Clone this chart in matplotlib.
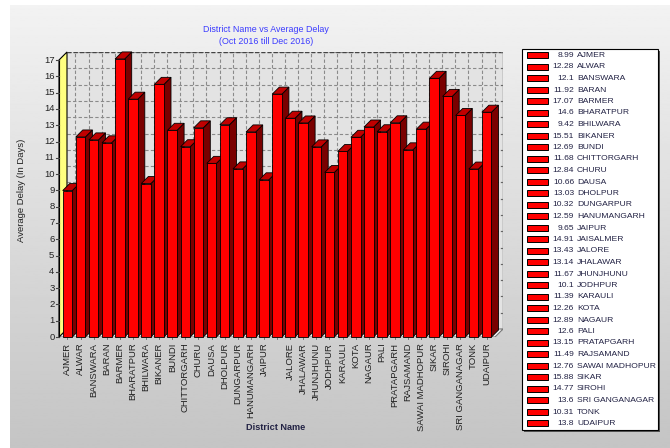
import numpy as np
import matplotlib.pyplot as plt
from matplotlib.patches import Polygon, Rectangle

plt.rcParams['font.family'] = ['Liberation Sans', 'DejaVu Sans']

districts = ["AJMER", "ALWAR", "BANSWARA", "BARAN", "BARMER", "BHARATPUR", "BHILWARA",
             "BIKANER", "BUNDI", "CHITTORGARH", "CHURU", "DAUSA", "DHOLPUR", "DUNGARPUR",
             "HANUMANGARH", "JAIPUR", "JAISALMER", "JALORE", "JHALAWAR", "JHUNJHUNU",
             "JODHPUR", "KARAULI", "KOTA", "NAGAUR", "PALI", "PRATAPGARH", "RAJSAMAND",
             "SAWAI MADHOPUR", "SIKAR", "SIROHI", "SRI GANGANAGAR", "TONK", "UDAIPUR"]
avg_delay = [8.99, 12.28, 12.1, 11.92, 17.07, 14.6, 9.42, 15.51, 12.69, 11.68, 12.84,
             10.66, 13.03, 10.32, 12.59, 9.65, 14.91, 13.43, 13.14, 11.67, 10.1, 11.39,
             12.26, 12.89, 12.6, 13.15, 11.49, 12.76, 15.88, 14.77, 13.6, 10.31, 13.8]
# the axis skips the JAISALMER label (no room), the legend keeps it
axis_labels = ["" if d == "JAISALMER" else d for d in districts]
value_labels = ["8.99", "12.28", "12.1", "11.92", "17.07", "14.6", "9.42", "15.51", "12.69",
                "11.68", "12.84", "10.66", "13.03", "10.32", "12.59", "9.65", "14.91", "13.43",
                "13.14", "11.67", "10.1", "11.39", "12.26", "12.89", "12.6", "13.15", "11.49",
                "12.76", "15.88", "14.77", "13.6", "10.31", "13.8"]

W, H = 670, 448
fig = plt.figure(figsize=(W / 100, H / 100), dpi=100)
fig.patch.set_facecolor('white')

# gray gradient panel behind everything
bg = fig.add_axes([0, 0, 1, 1])
bg.set_xlim(0, W)
bg.set_ylim(H, 0)
bg.axis('off')
grad = np.linspace(0.95, 0.77, 256).reshape(-1, 1)
bg.imshow(grad, cmap='gray', vmin=0, vmax=1, aspect='auto', extent=(10, W, H, 5))

def px_box(x0, y0, x1, y1):
    return [x0 / W, 1 - y1 / H, (x1 - x0) / W, (y1 - y0) / H]

# plot axes: front plane 59..495 px, back wall up to 503 px, zero line at 337 px
ax = fig.add_axes(px_box(59, 52, 503, 337))
slot, unit = 13.1, 16.29
x_left = (59 - 67.5) / slot
x_right = (503 - 67.5) / slot
y_top = (337 - 52) / unit
ax.set_xlim(x_left, x_right)
ax.set_ylim(0, y_top)
ax.axis('off')

wdx, wdy = 8 / slot, 8 / unit     # wall depth
bdx, bdy = 7 / slot, 7 / unit     # bar depth
front_right = x_right - wdx

# back wall
ax.add_patch(Rectangle((x_left + wdx, wdy), x_right - x_left - wdx, y_top - wdy,
                       facecolor='#e3e3e3', edgecolor='none', zorder=1))
for k in range(18):
    ax.plot([x_left + wdx, x_right], [k + wdy, k + wdy], color='#8a8a8a',
            lw=0.8, ls=(0, (3, 2)), zorder=2)
for i in range(len(districts)):
    ax.plot([i + wdx, i + wdx], [wdy, y_top], color='#8a8a8a',
            lw=0.8, ls=(0, (3, 2)), zorder=2)
ax.plot([x_left + wdx, x_right], [y_top, y_top], color='#444444', lw=1.0,
        ls=(0, (3, 1.5)), zorder=2)
ax.plot([x_right, x_right], [wdy, y_top], color='#666666', lw=1.0, zorder=2)
for k in range(18):
    ax.plot([x_right - 0.15, x_right], [k + wdy, k + wdy], color='#666666', lw=0.8, zorder=2)

# floor
ax.add_patch(Polygon([(x_left, 0), (front_right, 0), (x_right, wdy), (x_left + wdx, wdy)],
                     closed=True, facecolor='#f4f4f4', edgecolor='#777777', lw=0.8, zorder=2))

# yellow side wall
ax.add_patch(Polygon([(x_left, 0), (x_left + wdx, wdy), (x_left + wdx, y_top),
                      (x_left, y_top - wdy)], closed=True, facecolor='#ffff80',
                     edgecolor='black', lw=0.8, zorder=3, clip_on=False))

# 3d bars, drawn left to right so each front face hides the previous side
bw = 9.6 / slot
for i, v in enumerate(avg_delay):
    x0, x1 = i - bw / 2, i + bw / 2
    side = [(x1, 0), (x1 + bdx, bdy), (x1 + bdx, v + bdy), (x1, v)]
    top = [(x0, v), (x1, v), (x1 + bdx, v + bdy), (x0 + bdx, v + bdy)]
    ax.add_patch(Polygon(side, closed=True, facecolor='#7a0000', edgecolor='black',
                         lw=0.6, zorder=4 + i * 0.01, clip_on=False))
    ax.add_patch(Polygon(top, closed=True, facecolor='#c00000', edgecolor='black',
                         lw=0.6, zorder=4 + i * 0.01, clip_on=False))
    ax.add_patch(Rectangle((x0, 0), bw, v, facecolor='#ff0000', edgecolor='black',
                           lw=0.6, zorder=4.005 + i * 0.01, clip_on=False))

# y axis with ticks and labels
ax.plot([x_left, x_left], [0, y_top - wdy], color='black', lw=0.8, zorder=5, clip_on=False)
for k in range(18):
    ax.plot([x_left - 0.2, x_left], [k, k], color='#444444', lw=0.8, clip_on=False, zorder=5)
    ax.text(x_left - 0.35, k, str(k), ha='right', va='center', fontsize=6.8,
            color='#222222', clip_on=False)

# x ticks and rotated category labels
for i, name in enumerate(axis_labels):
    ax.plot([i, i], [0, -0.15], color='#666666', lw=0.6, clip_on=False)
    ax.text(i, -0.35, name, rotation=90, ha='center', va='top', fontsize=6.8,
            color='#222222', clip_on=False)

# titles
fig.text(266 / W, 1 - 29 / H, "District Name vs Average Delay", ha='center', va='center',
         fontsize=6.4, color='#3a3aff')
fig.text(266 / W, 1 - 41 / H, "(Oct 2016 till Dec 2016)", ha='center', va='center',
         fontsize=6.4, color='#3a3aff')
fig.text(22 / W, 1 - 190 / H, "Average Delay (In Days)", rotation=90, ha='center',
         va='center', fontsize=6.8, color='#222222')
fig.text(276 / W, 1 - 427 / H, "District Name", ha='center', va='center', fontsize=6.6,
         fontweight='bold', color='#222244')

# legend box with shadow
bg.add_patch(Rectangle((524, 51), 136, 381, facecolor='#555555', edgecolor='none'))
bg.add_patch(Rectangle((522, 49), 136, 381, facecolor='white', edgecolor='black', lw=0.8))
row0, row_h = 55.5, 11.5
for i, (name, val) in enumerate(zip(districts, value_labels)):
    y = row0 + i * row_h
    bg.add_patch(Rectangle((527, y - 3), 21, 6, facecolor='#ff0000', edgecolor='black', lw=0.7))
    bg.text(574, y, val, ha='right', va='center', fontsize=6.1, color='#222244')
    bg.text(577, y, name, ha='left', va='center', fontsize=6.1, color='#222244')

fig.savefig('out.png', dpi=100)
